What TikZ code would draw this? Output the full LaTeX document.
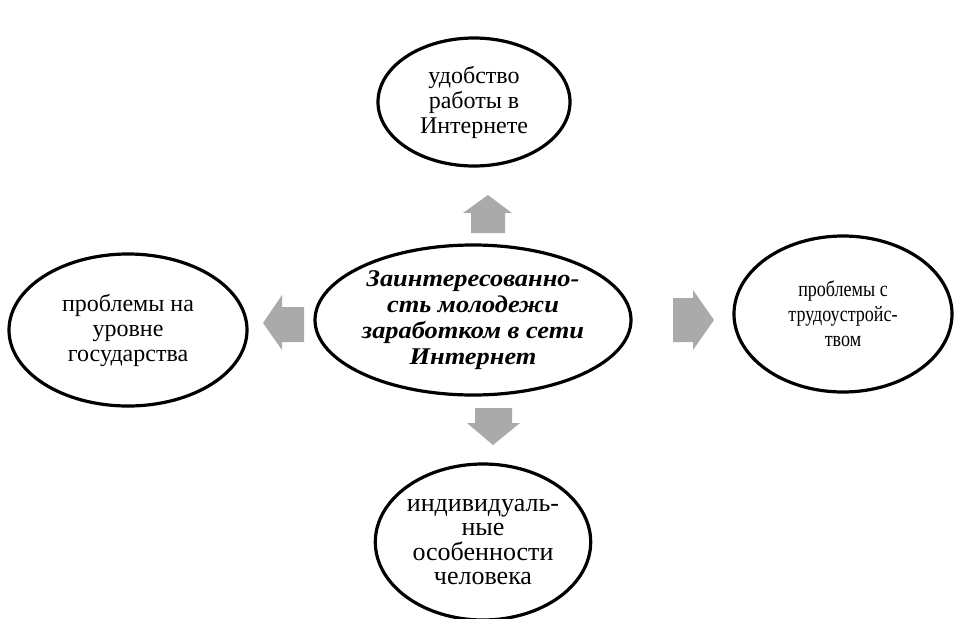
\documentclass[tikz,border=0pt]{standalone}
\usepackage{fontspec}
\setmainfont{Liberation Serif}
\newfontfamily\serifru{Liberation Serif}
\newfontfamily\centerfont[FakeStretch=1.1]{Liberation Serif}
\newfontfamily\narrowfont[FakeStretch=0.82]{Liberation Serif}
\usetikzlibrary{shapes.geometric}
\definecolor{arrowgray}{HTML}{AAAAAA}
\tikzset{
  bubble/.style={ellipse, draw=black, line width=3.2pt, fill=white, inner sep=0pt, align=center,
    font=\serifru\fontsize{24}{25}\selectfont},
  blockarrow/.style={fill=arrowgray, draw=none}
}
\begin{document}
\begin{tikzpicture}[x=1pt,y=-1pt]
\useasboundingbox (0,0) rectangle (954,619);
\node[bubble, minimum width=192pt, minimum height=128pt] (top) at (474,102) {удобство\\работы в\\Интернете};
\node[bubble, minimum width=238pt, minimum height=152pt] (left) at (128,330) {проблемы на\\уровне\\государства};
\node[bubble, minimum width=316pt, minimum height=150pt, font=\centerfont\fontsize{24}{26}\selectfont\bfseries\itshape] (center) at (473,320) {Заинтересованно-\\сть молодежи\\заработком в сети\\Интернет};
\node[bubble, minimum width=218pt, minimum height=156pt, font=\narrowfont\fontsize{22}{25}\selectfont] (right) at (843,314) {проблемы с\\трудоустройс-\\твом};
\node[bubble, minimum width=214pt, minimum height=156pt, font=\serifru\fontsize{26}{24.5}\selectfont] (bottom) at (483,542) {индивидуаль-\\ные\\особенности\\человека};
% block arrows
\fill[blockarrow] (471,233) -- (505,233) -- (505,213) -- (512,213) -- (488,195) -- (463,213) -- (471,213) -- cycle;
\fill[blockarrow] (304,307) -- (282,307) -- (282,295) -- (263,323) -- (282,350) -- (282,342) -- (304,342) -- cycle;
\fill[blockarrow] (673,298) -- (693,298) -- (693,290) -- (714,320) -- (693,350) -- (693,342) -- (673,342) -- cycle;
\fill[blockarrow] (475,408) -- (512,408) -- (512,423) -- (520,423) -- (493,445) -- (467,423) -- (475,423) -- cycle;
\end{tikzpicture}
\end{document}
